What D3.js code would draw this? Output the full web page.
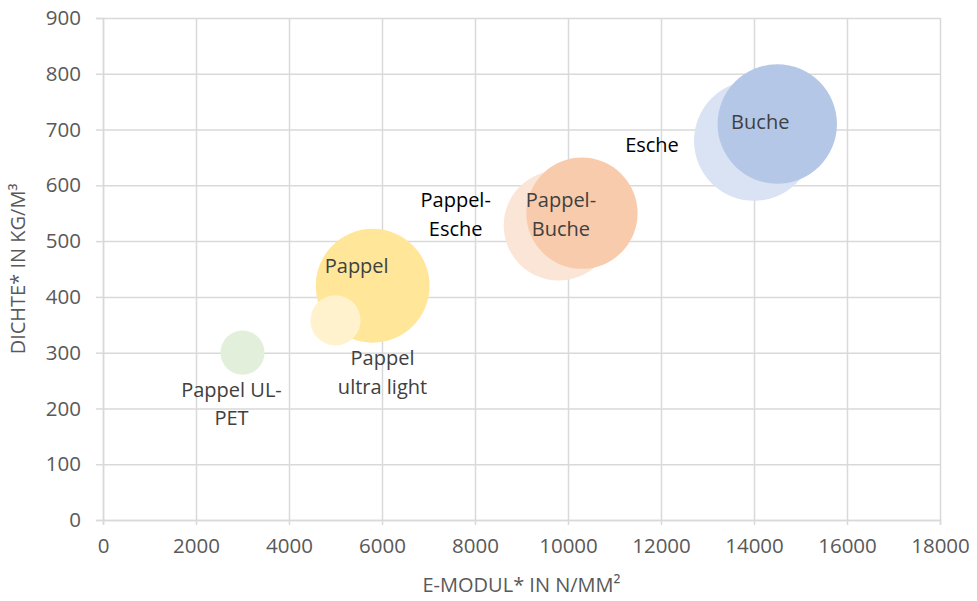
<!DOCTYPE html>
<html>
<head>
<meta charset="utf-8">
<script src="https://cdn.jsdelivr.net/npm/d3@7"></script>
<style>
  body { margin: 0; background: #fff; }
  text { font-family: "Open Sans", "Noto Sans", sans-serif; }
</style>
</head>
<body>
<svg id="chart"></svg>
<script>
const WIDTH = 977,
  HEIGHT = 601,
  margin = { top: 18, right: 37, bottom: 81, left: 103 };

// data (drawing order as in the original)
const names = ["Pappel UL-PET", "Pappel", "Pappel ultra light", "Pappel-Esche", "Pappel-Buche", "Esche", "Buche"];
const emodul = [3000, 5800, 5000, 9800, 10300, 14000, 14500];
const dichte = [300, 420, 358, 528, 550, 680, 710];
const bubbleSize = [13.5, 90, 17.5, 84, 86, 100, 99];
const colors = ["#e2efda", "#ffe699", "#fff2cc", "#fbe5d6", "#f8cbad", "#dae3f3", "#b4c7e7"];

// label lines, colour and offset of first baseline from bubble centre (px)
const labelLines = [["Pappel UL-", "PET"], ["Pappel"], ["Pappel", "ultra light"], ["Pappel-", "Esche"], ["Pappel-", "Buche"], ["Esche"], ["Buche"]];
const labelColor = ["#404040", "#404040", "#404040", "#000000", "#404040", "#000000", "#404040"];
const labelDx = [-11, -16, 47, -103, -21, -102, -17];
const labelDy = [44, -13, 44.5, -18.5, -6, 11, 5];

const xTicks = d3.range(0, 18001, 2000);
const yTicks = d3.range(0, 901, 100);

const svg = d3.select("#chart")
  .attr("width", WIDTH)
  .attr("height", HEIGHT);

const x = d3.scaleLinear().domain([0, 18000]).range([margin.left, WIDTH - margin.right]);
const y = d3.scaleLinear().domain([0, 900]).range([HEIGHT - margin.bottom, margin.top]);
const r = d3.scaleSqrt().domain([0, 100]).range([0, 60]);

// gridlines
svg.append("g")
  .attr("transform", `translate(0,${HEIGHT - margin.bottom})`)
  .call(d3.axisBottom(x).tickValues(xTicks).tickSize(-(HEIGHT - margin.top - margin.bottom)).tickFormat(""))
  .call(g => g.select(".domain").remove())
  .call(g => g.selectAll("line").attr("stroke", "#d9d9d9").attr("stroke-width", 1.5));

svg.append("g")
  .attr("transform", `translate(${margin.left},0)`)
  .call(d3.axisLeft(y).tickValues(yTicks).tickSize(-(WIDTH - margin.left - margin.right)).tickFormat(""))
  .call(g => g.select(".domain").remove())
  .call(g => g.selectAll("line").attr("stroke", "#d9d9d9").attr("stroke-width", 1.5));

// axes with labels
const xAxis = svg.append("g")
  .attr("transform", `translate(0,${HEIGHT - margin.bottom})`)
  .call(d3.axisBottom(x).tickValues(xTicks).tickSize(5).tickPadding(13).tickFormat(d3.format("d")));

const yAxis = svg.append("g")
  .attr("transform", `translate(${margin.left},0)`)
  .call(d3.axisLeft(y).tickValues(yTicks).tickSize(7).tickPadding(15).tickFormat(d3.format("d")));

[xAxis, yAxis].forEach(a => {
  a.select(".domain").attr("stroke", "#d9d9d9").attr("stroke-width", 1.5);
  a.selectAll("line").attr("stroke", "#d9d9d9").attr("stroke-width", 1.5);
  a.selectAll("text")
    .attr("fill", "#595959")
    .style("font-family", "'Open Sans', sans-serif")
    .style("font-size", "20.5px");
});

// bubbles
const idx = d3.range(names.length);

svg.append("g")
  .selectAll("circle")
  .data(idx)
  .enter()
  .append("circle")
  .attr("cx", i => x(emodul[i]))
  .attr("cy", i => y(dichte[i]))
  .attr("r", i => r(bubbleSize[i]))
  .attr("fill", i => colors[i]);

// labels
const labels = svg.append("g")
  .selectAll("text")
  .data(idx)
  .enter()
  .append("text")
  .attr("text-anchor", "middle")
  .attr("fill", i => labelColor[i])
  .style("font-size", "20px")
  .attr("x", i => x(emodul[i]) + labelDx[i])
  .attr("y", i => y(dichte[i]) + labelDy[i]);

labels.each(function(i) {
  const t = d3.select(this);
  labelLines[i].forEach((line, k) => {
    t.append("tspan")
      .attr("x", x(emodul[i]) + labelDx[i])
      .attr("dy", k === 0 ? 0 : 28.7)
      .text(line);
  });
});

// axis titles
svg.append("text")
  .attr("x", (margin.left + WIDTH - margin.right) / 2)
  .attr("y", 592)
  .attr("text-anchor", "middle")
  .attr("fill", "#595959")
  .style("font-size", "20px")
  .text("E-MODUL* IN N/MM²");

svg.append("text")
  .attr("transform", `translate(25,${(margin.top + HEIGHT - margin.bottom) / 2}) rotate(-90)`)
  .attr("text-anchor", "middle")
  .attr("fill", "#595959")
  .style("font-size", "20px")
  .text("DICHTE* IN KG/M³");
</script>
</body>
</html>
